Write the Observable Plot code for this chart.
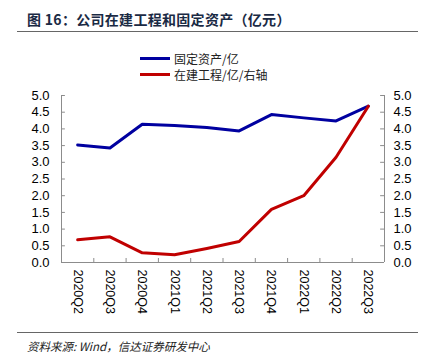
<!DOCTYPE html>
<html>
<head>
<meta charset="utf-8">
<script src="https://cdn.jsdelivr.net/npm/d3@7"></script>
<script src="https://cdn.jsdelivr.net/npm/@observablehq/plot@0.6"></script>
<style>
  html, body { margin: 0; padding: 0; background: #fff; }
  #wrap { position: relative; width: 432px; height: 357px; overflow: hidden; }
  #chart { position: absolute; left: 0; top: 0; }
  .title { position: absolute; left: 27px; top: 9px; font: bold 14px "Noto Sans CJK SC", sans-serif; color: #1a2a44; white-space: nowrap; letter-spacing: 0.3px; }
  .hr { position: absolute; left: 17px; width: 401px; height: 0; border-top: 1.5px solid #666; }
  .footer { position: absolute; left: 27px; top: 338px; font: italic 11.5px "Noto Sans CJK SC", sans-serif; color: #222; white-space: nowrap; }
  .leg { position: absolute; left: 140px; font: 12px "Noto Sans CJK SC", sans-serif; color: #222; white-space: nowrap; display: flex; align-items: center; }
  .leg i { display: inline-block; width: 30px; height: 3px; margin-right: 4px; }
</style>
</head>
<body>
<div id="wrap">
  <div id="chart"></div>
  <div class="title">图 16：公司在建工程和固定资产（亿元）</div>
  <div class="hr" style="top:31px"></div>
  <div class="leg" style="top:50px"><i style="background:#0000A0"></i>固定资产/亿</div>
  <div class="leg" style="top:66px"><i style="background:#C00000"></i>在建工程/亿/右轴</div>
  <div class="hr" style="top:332px"></div>
  <div class="footer">资料来源: Wind，信达证券研发中心</div>
</div>
<script>
const categories = ["2020Q2","2020Q3","2020Q4","2021Q1","2021Q2","2021Q3","2021Q4","2022Q1","2022Q2","2022Q3"];
const fixedAssets = [3.52, 3.43, 4.14, 4.10, 4.04, 3.94, 4.43, 4.33, 4.24, 4.68];
const constructionInProgress = [0.68, 0.77, 0.29, 0.23, 0.42, 0.63, 1.59, 2.00, 3.15, 4.68];
const yTicks = [0, 0.5, 1, 1.5, 2, 2.5, 3, 3.5, 4, 4.5, 5];

const n = categories.length;
const idx = d3.range(n);
const bounds = d3.range(n + 1).map(i => i - 0.5);
const axisColor = "#8c8c8c";
const tickX = 0.12; // inward tick length in x data units
const tickY = 0.12; // inward tick length in y data units

const chart = Plot.plot({
  width: 432,
  height: 357,
  marginLeft: 61,
  marginRight: 48,
  marginTop: 95,
  marginBottom: 95,
  style: { fontFamily: "'Liberation Sans', Arial, sans-serif", fontSize: "13px", color: "#000", background: "transparent" },
  x: { type: "linear", domain: [-0.5, n - 0.5], axis: null },
  y: { domain: [0, 5], axis: null },
  marks: [
    Plot.axisY({ anchor: "left", ticks: yTicks, tickSize: 0, tickPadding: 12, tickFormat: d => d.toFixed(1) }),
    Plot.axisY({ anchor: "right", ticks: yTicks, tickSize: 0, tickPadding: 9, tickFormat: d => d.toFixed(1) }),
    Plot.axisX({ ticks: idx, tickSize: 0, tickPadding: 7, tickRotate: 90, tickFormat: i => categories[i], fontSize: 12.5 }),
    Plot.ruleY(yTicks, { x1: -0.5, x2: -0.5 + tickX, stroke: axisColor }),
    Plot.ruleY(yTicks, { x1: n - 0.5 - tickX, x2: n - 0.5, stroke: axisColor }),
    Plot.ruleX(bounds, { y1: 0, y2: tickY, stroke: axisColor }),
    Plot.ruleX([-0.5, n - 0.5], { y1: 0, y2: 5, stroke: axisColor }),
    Plot.ruleY([0], { x1: -0.5, x2: n - 0.5, stroke: axisColor }),
    Plot.line(fixedAssets, { x: (d, i) => i, y: d => d, stroke: "#0000A0", strokeWidth: 3 }),
    Plot.line(constructionInProgress, { x: (d, i) => i, y: d => d, stroke: "#C00000", strokeWidth: 3 })
  ]
});
document.getElementById("chart").appendChild(chart);
</script>
</body>
</html>
